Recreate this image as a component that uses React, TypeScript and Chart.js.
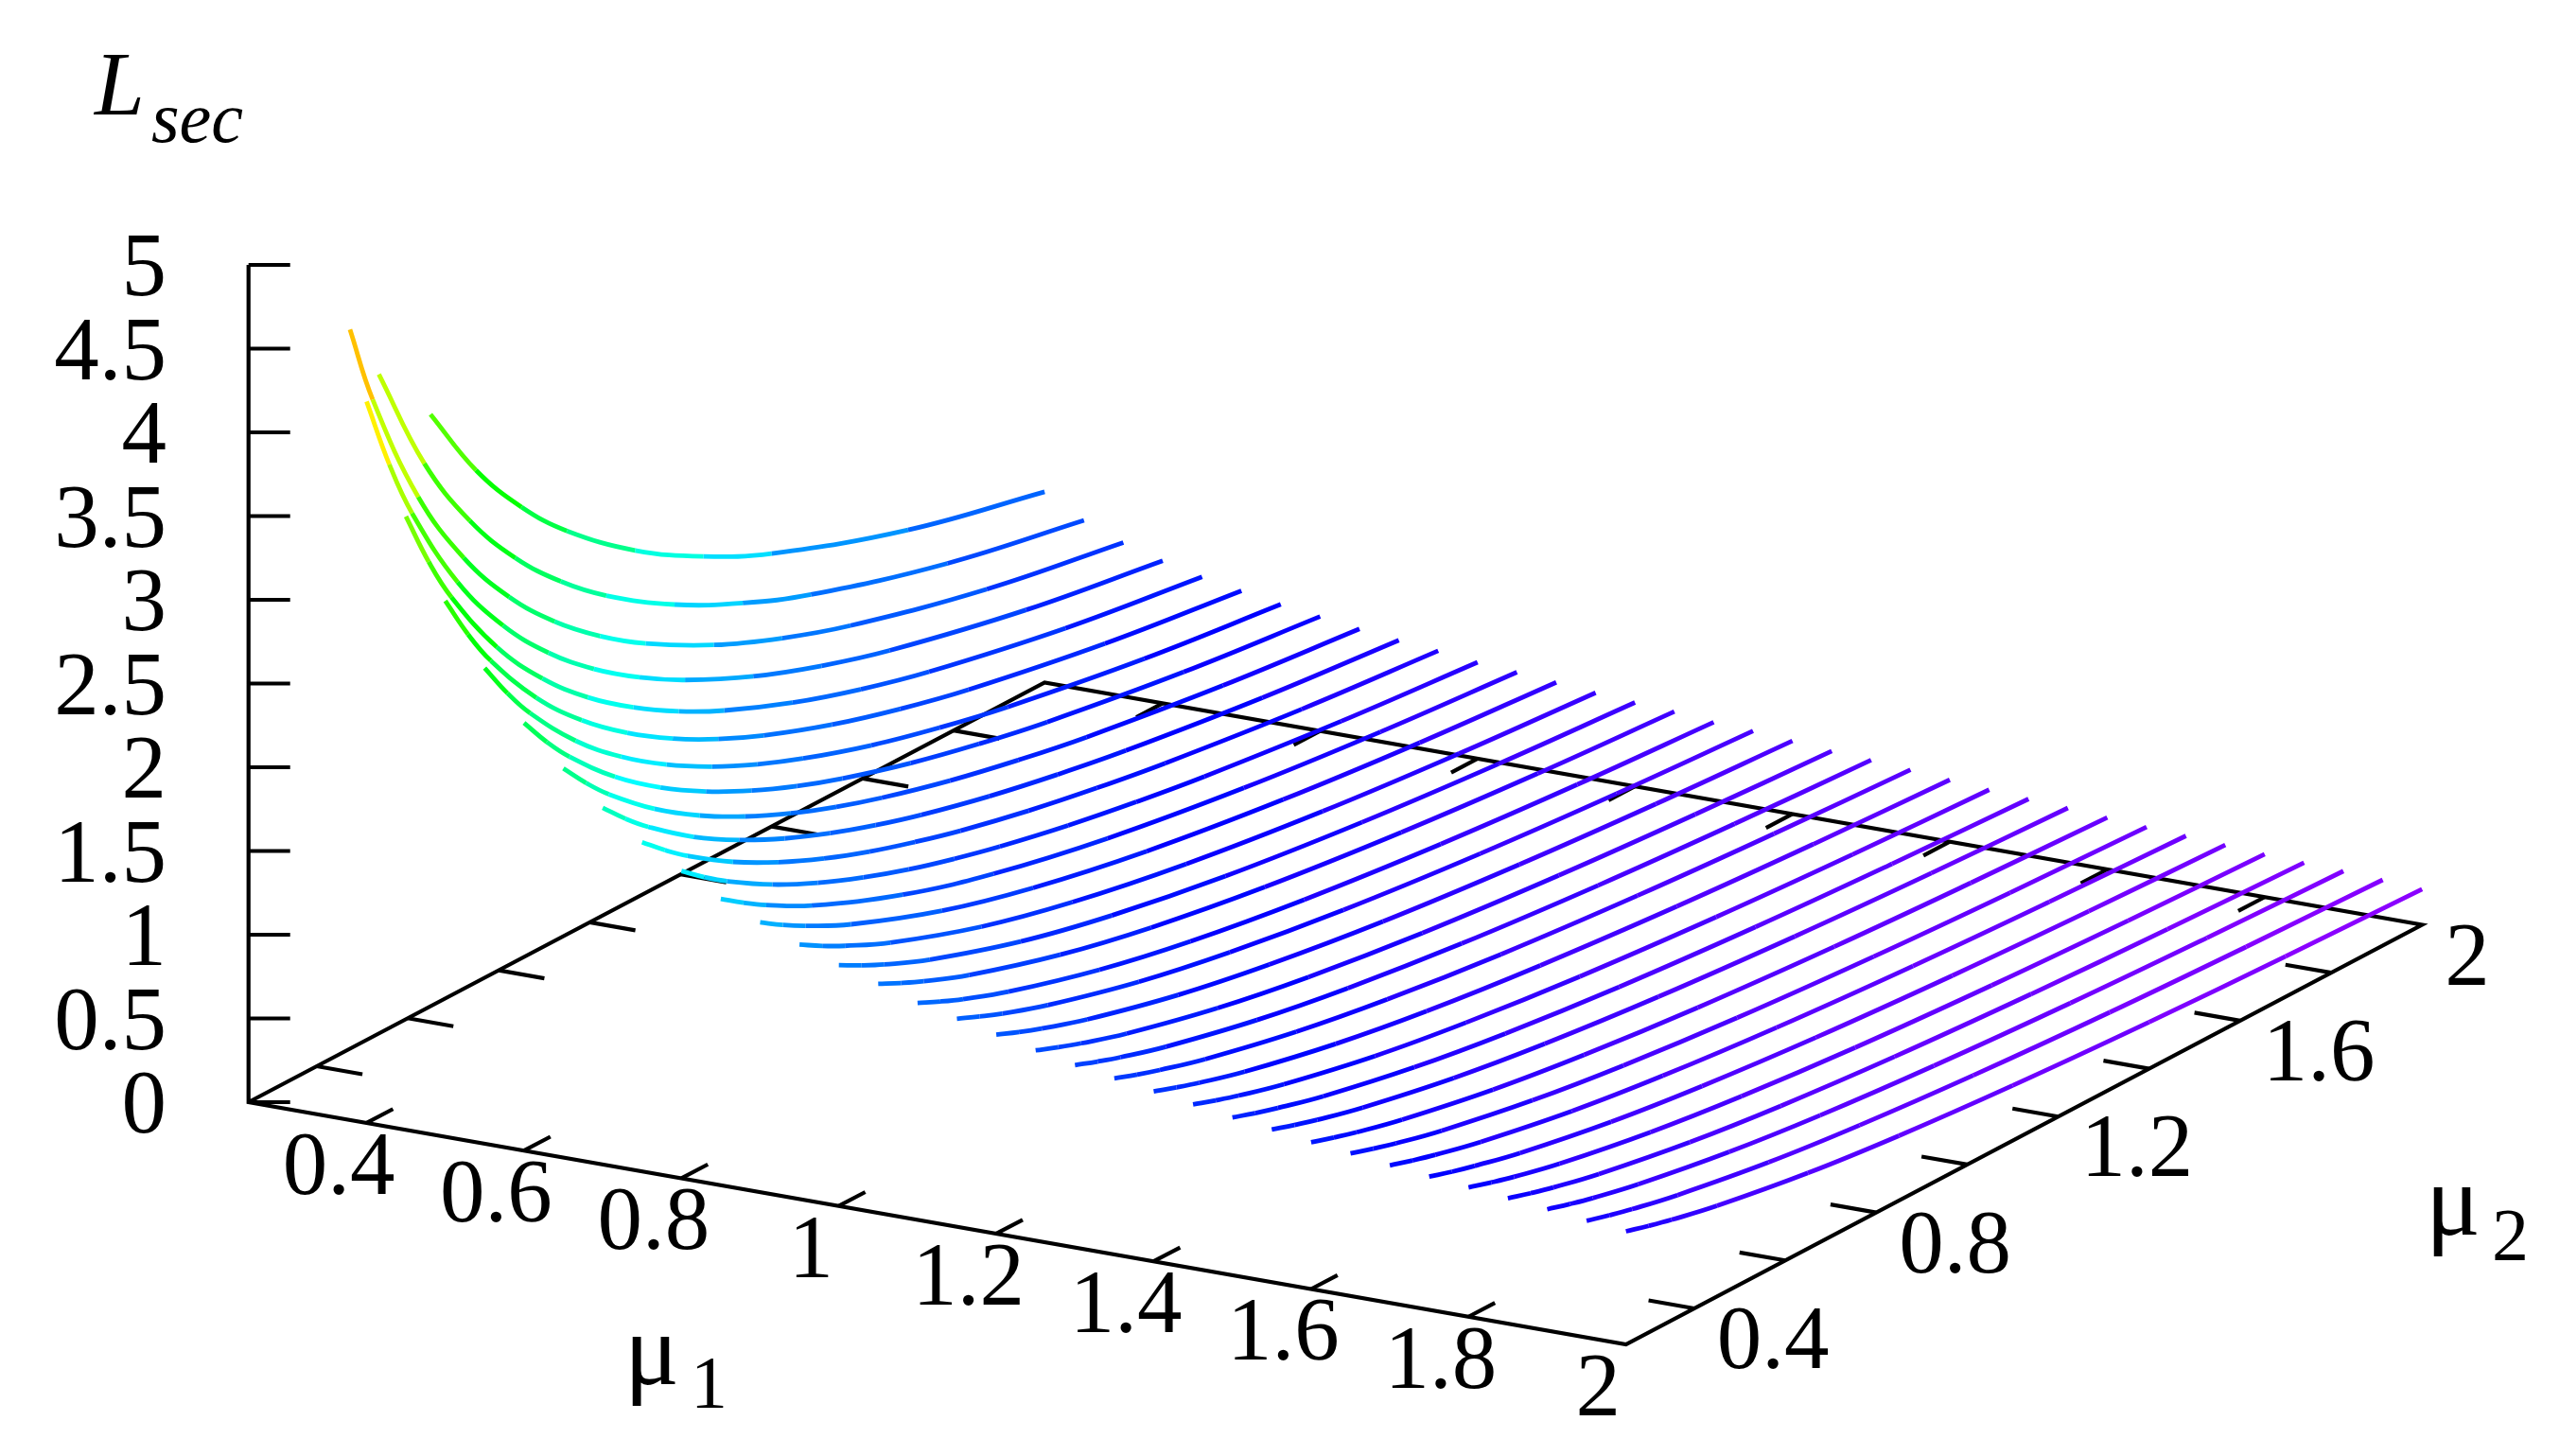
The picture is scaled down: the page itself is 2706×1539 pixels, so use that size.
import React, { useEffect, useRef } from "react";
import { Chart, registerables } from "chart.js";

Chart.register(...registerables);

const mu2Grid = [0.25, 0.3, 0.35, 0.45, 0.55, 0.65, 0.75, 0.85, 0.95, 1.1, 1.25, 1.4, 1.7, 2];

const mu1Values = [
  0.25, 0.3, 0.35, 0.4, 0.45, 0.5, 0.55, 0.6, 0.65, 0.7, 0.75, 0.8, 0.85, 0.9, 0.95, 1, 1.05, 1.1,
  1.15, 1.2, 1.25, 1.3, 1.35, 1.4, 1.45, 1.5, 1.55, 1.6, 1.65, 1.7, 1.75, 1.8, 1.85, 1.9, 1.95, 2,
];

// L_sec, one row per mu1, one column per mu2Grid entry
// null: no line there (left end of the first rows) or nothing read for a nearly straight line
const lsecRows: (number | null)[][] = [
  [null, null, null, null, null, 3.535, 3.058, 2.695, 2.409, 2.078, 1.827, 1.63, 1.341, 1.139],
  [null, null, null, 4.102, 3.426, 2.941, 2.576, 2.292, 2.064, 1.796, 1.59, 1.426, 1.183, 1.01],
  [null, 4.625, 4.135, 3.411, 2.904, 2.527, 2.237, 2.007, 1.82, 1.596, 1.422, 1.282, 1.07, 0.919],
  [4.308, 3.861, 3.498, 2.944, 2.541, 2.235, 1.995, 1.802, 1.643, 1.45, 1.298, 1.175, 0.988, 0.852],
  [3.663, 3.321, 3.038, 2.596, 2.266, 2.01, 1.807, 1.64, 1.502, 1.334, 1.199, 1.089, 0.92, 0.797],
  [3.2, 2.929, 2.7, 2.336, 2.058, 1.839, 1.662, 1.516, 1.394, 1.244, 1.123, 1.023, 0.869, 0.755],
  [2.841, 2.619, 2.428, 2.12, 1.882, 1.691, 1.536, 1.407, 1.298, 1.162, 1.053, 0.962, 0.82, 0.715],
  [2.554, 2.369, 2.209, 1.946, 1.739, 1.572, 1.434, 1.318, 1.22, 1.097, 0.997, 0.913, 0.782, 0.684],
  [2.323, 2.165, 2.026, 1.796, 1.613, 1.464, 1.34, 1.235, 1.146, 1.034, 0.942, 0.864, 0.743, 0.651],
  [2.13, 1.993, 1.873, 1.67, 1.508, 1.374, 1.262, 1.167, 1.085, 0.982, 0.897, 0.825, 0.711, 0.625],
  [1.966, 1.847, 1.741, 1.562, 1.417, 1.296, 1.194, 1.108, 1.032, 0.937, 0.858, 0.791, 0.684, 0.603],
  [1.835, 1.727, 1.631, 1.468, 1.335, 1.224, 1.129, 1.049, 0.979, 0.89, 0.816, 0.753, 0.653, 0.576],
  [1.71, 1.615, 1.53, 1.384, null, 1.162, null, 1.001, null, 0.854, null, 0.726, 0.631, 0.558],
  [1.611, 1.524, 1.447, 1.313, null, 1.108, null, 0.958, null, 0.819, null, 0.698, 0.608, 0.539],
  [1.52, 1.44, 1.369, 1.245, null, 1.054, null, 0.914, null, 0.784, null, 0.669, 0.584, 0.518],
  [1.438, 1.365, 1.299, 1.185, null, 1.007, null, 0.876, null, 0.753, null, 0.645, 0.564, 0.501],
  [1.368, 1.301, 1.24, 1.134, null, 0.969, null, 0.845, null, 0.729, null, 0.626, 0.548, 0.488],
  [1.295, 1.232, 1.175, 1.076, null, 0.921, null, 0.804, null, 0.695, null, 0.597, 0.523, 0.466],
  [1.242, 1.184, 1.13, 1.037, null, 0.89, null, 0.78, null, 0.675, null, 0.581, 0.51, 0.455],
  [1.188, 1.132, 1.082, 0.993, null, 0.853, null, 0.748, null, 0.647, null, 0.558, 0.49, 0.437],
  [1.136, 1.083, 1.035, 0.95, null, 0.816, null, 0.715, null, 0.619, null, 0.534, 0.469, 0.418],
  [1.089, 1.039, 0.993, 0.913, null, 0.786, null, 0.69, null, 0.598, null, 0.516, 0.454, 0.405],
  [1.051, 1.002, 0.958, 0.88, null, 0.757, null, 0.664, null, 0.575, null, 0.496, 0.436, 0.389],
  [1.015, 0.967, 0.923, 0.846, null, 0.726, null, 0.635, null, 0.55, null, 0.473, 0.415, 0.37],
  [0.978, 0.931, 0.888, 0.813, null, 0.695, null, 0.608, null, 0.525, null, 0.451, 0.395, 0.352],
  [0.942, 0.896, 0.855, 0.782, null, 0.669, null, 0.584, null, 0.504, null, 0.433, 0.38, 0.338],
  [0.911, 0.867, 0.826, 0.756, null, 0.646, null, 0.564, null, 0.487, null, 0.418, 0.366, 0.326],
  [0.876, 0.833, 0.793, 0.725, null, 0.618, null, 0.539, null, 0.464, null, 0.398, 0.349, 0.31],
  [0.851, 0.808, 0.768, 0.7, null, 0.595, null, 0.517, null, 0.444, null, 0.38, 0.332, 0.295],
  [0.821, 0.779, 0.741, 0.675, null, 0.572, null, 0.497, null, 0.427, null, 0.365, 0.319, 0.283],
  [0.795, 0.753, 0.716, 0.65, null, 0.55, null, 0.477, null, 0.409, null, 0.349, 0.304, 0.27],
  [0.772, 0.73, 0.692, 0.627, null, 0.529, null, 0.457, null, 0.39, null, 0.332, 0.289, 0.256],
  [0.748, 0.707, 0.67, 0.607, null, 0.511, null, 0.441, null, 0.377, null, 0.321, 0.279, 0.247],
  [0.724, 0.684, 0.648, 0.587, null, 0.494, null, 0.426, null, 0.364, null, 0.309, 0.269, 0.238],
  [0.697, 0.658, 0.623, 0.564, null, 0.473, null, 0.408, null, 0.348, null, 0.295, 0.257, 0.227],
  [0.675, 0.636, 0.601, 0.541, null, 0.451, null, 0.387, null, 0.329, null, 0.278, 0.241, 0.213],
];

const zTicks = [0, 0.5, 1, 1.5, 2, 2.5, 3, 3.5, 4, 4.5, 5];
const zTickLabels = ["0", "0.5", "1", "1.5", "2", "2.5", "3", "3.5", "4", "4.5", "5"];
const mu1Ticks = [0.4, 0.6, 0.8, 1, 1.2, 1.4, 1.6, 1.8];
const mu1TickLabels = ["0.4", "0.6", "0.8", "1", "1.2", "1.4", "1.6", "1.8", "2"];
const mu1LabelAt = [0.4, 0.6, 0.8, 1, 1.2, 1.4, 1.6, 1.8, 2];
const mu2Ticks = [0.4, 0.6, 0.8, 1, 1.2, 1.4, 1.6, 1.8];
const mu2TickLabels = ["0.4", "0.8", "1.2", "1.6", "2"];
const mu2LabelAt = [0.4, 0.8, 1.2, 1.6, 2];

// rainbow palette of the surface, L_sec -> hue
const paletteL = [0.2, 0.3, 0.5, 0.8, 1.2, 1.44, 1.61, 1.85, 2.2, 2.85, 3.5, 4, 4.3, 4.7];
const paletteHue = [275, 266, 256, 238, 218, 209, 195, 180, 155, 120, 92, 60, 48, 35];

const WIDTH = 2706;
const HEIGHT = 1539;
const AXIS_MIN = 0.25;
const AXIS_SPAN = 1.75;
const TICK_SPAN = 0.058;
const FONT = '"Liberation Serif", "Times New Roman", serif';

// fixed gnuplot style view: base of the box and height of one L_sec unit
function project(mu1: number, mu2: number, z: number) {
  const a = (mu1 - AXIS_MIN) / AXIS_SPAN;
  const b = (mu2 - AXIS_MIN) / AXIS_SPAN;
  return {
    x: 262.7 + a * 1456 + b * 841.5,
    y: 1165 + a * 256 - b * 443.5 - z * 177,
  };
}

function hueFor(value: number) {
  for (let i = 1; i < paletteL.length; i++) {
    if (value <= paletteL[i]) {
      const f = (value - paletteL[i - 1]) / (paletteL[i] - paletteL[i - 1]);
      return paletteHue[i - 1] + f * (paletteHue[i] - paletteHue[i - 1]);
    }
  }
  return paletteHue[paletteHue.length - 1];
}

function blackLine(data: { x: number; y: number }[]) {
  return {
    data,
    showLine: true,
    borderColor: "#000",
    borderWidth: 4.2,
    pointRadius: 0,
    borderCapStyle: "butt",
    borderJoinStyle: "miter",
  };
}

const curveDatasets = lsecRows.map((row, i) => {
  const points: { x: number; y: number; value: number }[] = [];
  row.forEach((value, j) => {
    if (value !== null) points.push({ ...project(mu1Values[i], mu2Grid[j], value), value });
  });
  return {
    data: points,
    showLine: true,
    borderWidth: 4.8,
    pointRadius: 0,
    borderCapStyle: "butt",
    tension: 0.4,
    segment: {
      borderColor: (ctx: any) => {
        const mean = (points[ctx.p0DataIndex].value + points[ctx.p1DataIndex].value) / 2;
        return `hsl(${hueFor(mean)}, 100%, 50%)`;
      },
    },
  };
});

const boxDatasets = [
  blackLine([project(AXIS_MIN, AXIS_MIN, 5), project(AXIS_MIN, AXIS_MIN, 0), project(2, AXIS_MIN, 0), project(2, 2, 0), project(AXIS_MIN, 2, 0), project(AXIS_MIN, AXIS_MIN, 0)]),
  ...zTicks.map((z) => {
    const p = project(AXIS_MIN, AXIS_MIN, z);
    return blackLine([p, { x: p.x + 44, y: p.y }]);
  }),
  ...mu1Ticks.map((v) => blackLine([project(v, AXIS_MIN, 0), project(v, AXIS_MIN + TICK_SPAN, 0)])),
  ...mu1Ticks.map((v) => blackLine([project(v, 2, 0), project(v, 2 - TICK_SPAN, 0)])),
  ...mu2Ticks.map((v) => blackLine([project(AXIS_MIN, v, 0), project(AXIS_MIN + TICK_SPAN, v, 0)])),
  ...mu2Ticks.map((v) => blackLine([project(2, v, 0), project(2 - TICK_SPAN, v, 0)])),
];

const axisText = {
  id: "axisText",
  afterDraw(chart: any) {
    const { ctx, scales } = chart;
    const px = (p: { x: number; y: number }) => ({
      x: scales.x.getPixelForValue(p.x),
      y: scales.y.getPixelForValue(p.y),
    });
    const put = (text: string, x: number, y: number, font: string, align: CanvasTextAlign) => {
      ctx.font = font;
      ctx.textAlign = align;
      ctx.fillText(text, x, y);
    };
    ctx.save();
    ctx.fillStyle = "#000";
    ctx.textBaseline = "alphabetic";
    const tickFont = `95px ${FONT}`;
    const muFont = `108px ${FONT}`;

    zTicks.forEach((z, i) => {
      const p = px(project(AXIS_MIN, AXIS_MIN, z));
      put(zTickLabels[i], 176, p.y + 32, tickFont, "right");
    });
    mu1LabelAt.forEach((v, i) => {
      const p = px(project(v, AXIS_MIN, 0));
      put(mu1TickLabels[i], p.x - 29.5, p.y + 75, tickFont, "center");
    });
    mu2LabelAt.forEach((v, i) => {
      const p = px(project(2, v, 0));
      put(mu2TickLabels[i], p.x + 24, p.y + 63, tickFont, "left");
    });

    put("L", 100, 121, `italic 95px ${FONT}`, "left");
    put("sec", 160, 150, `italic 76px ${FONT}`, "left");
    put("μ", 660, 1463, muFont, "left");
    put("1", 730, 1487, `78px ${FONT}`, "left");
    put("μ", 2564, 1305, muFont, "left");
    put("2", 2634, 1331, `78px ${FONT}`, "left");
    ctx.restore();
  },
};

export default function App() {
  const canvasRef = useRef<HTMLCanvasElement | null>(null);

  useEffect(() => {
    if (!canvasRef.current) return;

    const chart = new Chart(canvasRef.current, {
      type: "scatter",
      data: { datasets: [...curveDatasets, ...boxDatasets] as any },
      options: {
        animation: false,
        responsive: false,
        devicePixelRatio: 1,
        layout: { padding: 0 },
        plugins: { legend: { display: false }, tooltip: { enabled: false } },
        scales: {
          x: { type: "linear", min: 0, max: WIDTH, display: false },
          y: { type: "linear", min: 0, max: HEIGHT, reverse: true, display: false },
        },
      },
      plugins: [axisText],
    });

    return () => {
      chart.destroy();
    };
  }, []);

  return (
    <div style={{ position: "absolute", left: 0, top: 0, width: WIDTH, height: HEIGHT, background: "#fff" }}>
      <canvas ref={canvasRef} width={WIDTH} height={HEIGHT} style={{ display: "block" }} />
    </div>
  );
}
